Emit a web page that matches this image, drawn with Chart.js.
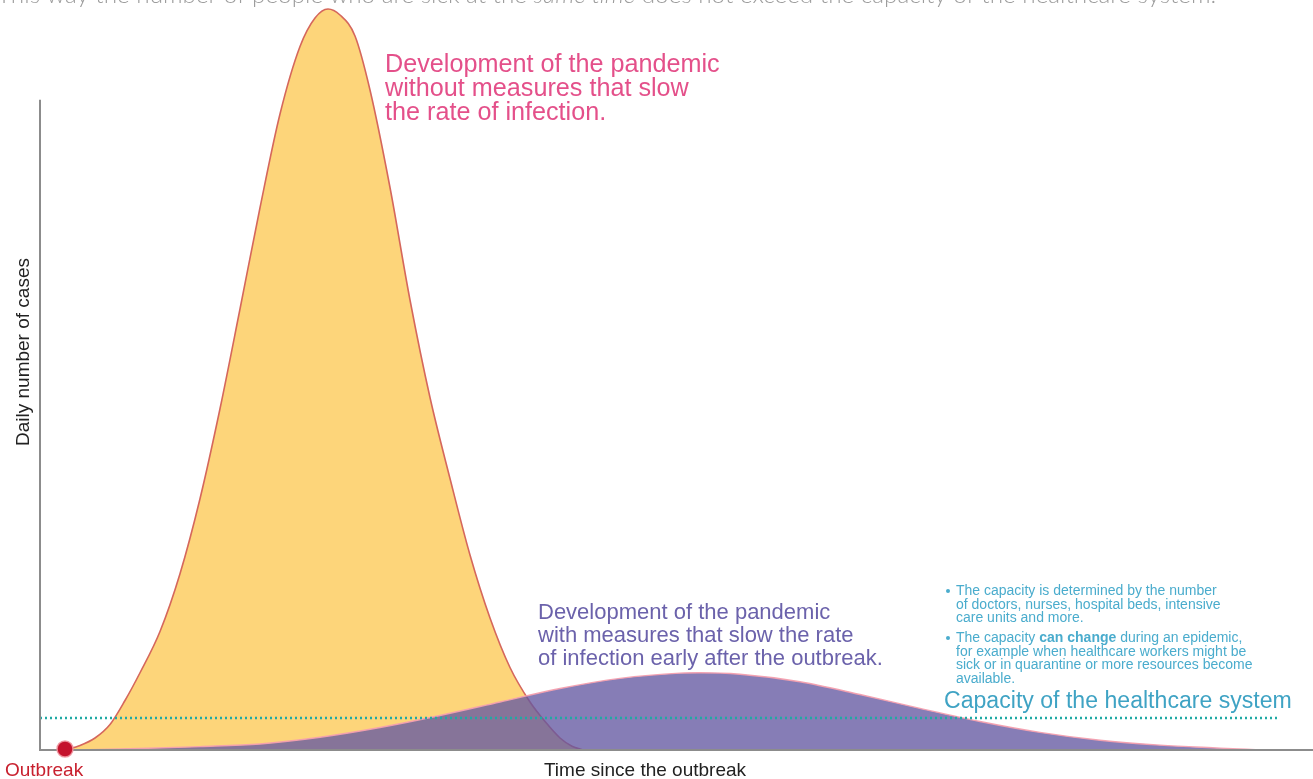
<!DOCTYPE html>
<html>
<head>
<meta charset="utf-8">
<script src="https://cdn.jsdelivr.net/npm/chart.js@4/dist/chart.umd.min.js"></script>
<style>
  body { margin: 0; background: #fff; }
  #wrap { width: 1313px; height: 779px; position: relative; }
</style>
</head>
<body>
<div id="wrap"><canvas id="flatChart" width="1313" height="779"></canvas></div>
<script>
// time since outbreak (arbitrary units) and daily cases (arbitrary units)
var noMeasuresX = [2.5, 4, 5.5, 7, 8.5, 10, 12, 14, 16, 18, 20, 22, 24, 26, 27.5, 28.8,
                   30, 31.5, 33, 35, 37, 39, 41, 43, 45, 47, 49, 50.5, 52, 53.2, 54.3];
var noMeasuresY = [0, 0.6, 1.6, 3.4, 6.6, 10.3, 15.8, 23.5, 33.5, 45.5, 58.8, 72.3, 84.8, 93.8, 97.6, 98.8,
                   98.0, 95.2, 88.0, 75.0, 60.0, 47.0, 36.2, 26.0, 17.6, 11.0, 6.4, 3.8, 1.6, 0.5, 0];

var measuresX = [4, 10, 16, 22, 28, 34, 40, 46, 52, 58, 64, 66, 70, 76, 82, 88, 94, 100, 106, 112, 118, 122];
var measuresY = [0, 0.2, 0.45, 0.8, 1.7, 3.0, 4.6, 6.4, 8.2, 9.55, 10.25, 10.3, 10.1, 9.1, 7.4, 5.55, 3.8, 2.35, 1.3, 0.65, 0.25, 0];

var capacityX = [0, 124];
var capacityLevel = 4.27;
var outbreakX = 2.5;

function pts(xs, ys) {
  return xs.map(function (x, i) { return { x: x, y: ys[i] }; });
}

var FONT = "'Liberation Sans', Arial, Helvetica, sans-serif";

// axes, labels and notes
var notesPlugin = {
  id: "notes",
  afterDraw: function (chart) {
    var ctx = chart.ctx;
    var xs = chart.scales.x, ys = chart.scales.y;
    var x0 = xs.getPixelForValue(0), y0 = ys.getPixelForValue(0);

    ctx.save();
    // axis lines
    ctx.strokeStyle = "#8c8c8c";
    ctx.lineWidth = 2;
    ctx.beginPath();
    ctx.moveTo(x0, ys.getPixelForValue(86.7));
    ctx.lineTo(x0, y0);
    ctx.lineTo(xs.getPixelForValue(xs.max), y0);
    ctx.stroke();

    // outbreak dot over the axis
    ctx.fillStyle = "#c4122c";
    ctx.strokeStyle = "rgba(240,150,160,0.9)";
    ctx.lineWidth = 1.5;
    ctx.beginPath();
    ctx.arc(xs.getPixelForValue(outbreakX), y0 - 1, 8, 0, Math.PI * 2);
    ctx.fill();
    ctx.stroke();

    // top sentence (cut by the page edge)
    ctx.fillStyle = "#9d9d9d";
    ctx.textBaseline = "alphabetic";
    var sz = 24.3;
    var parts = [
      ["This way the number of people who are sick at the ", "300"],
      ["same time", "italic 300"],
      [" does not exceed the capacity of the healthcare system.", "300"]
    ];
    var tx = -3;
    parts.forEach(function (p) {
      ctx.font = p[1] + " " + sz + "px Lato, 'Open Sans', sans-serif";
      ctx.fillText(p[0], tx, 3);
      tx += ctx.measureText(p[0]).width;
    });

    // pink annotation
    ctx.fillStyle = "#e4508a";
    ctx.font = "25.2px " + FONT;
    ["Development of the pandemic", "without measures that slow", "the rate of infection."].forEach(function (t, i) {
      ctx.fillText(t, 385, 72 + i * 24.2);
    });

    // purple annotation
    ctx.fillStyle = "#6b62ab";
    ctx.font = "22px " + FONT;
    ["Development of the pandemic", "with measures that slow the rate", "of infection early after the outbreak."].forEach(function (t, i) {
      ctx.fillText(t, 538, 618.5 + i * 23);
    });

    // blue bullet notes
    ctx.fillStyle = "#4aaccd";
    var bullets = [
      [[["The capacity is determined by the number", false]],
       [["of doctors, nurses, hospital beds, intensive", false]],
       [["care units and more.", false]]],
      [[["The capacity ", false], ["can change", true], [" during an epidemic,", false]],
       [["for example when healthcare workers might be", false]],
       [["sick or in quarantine or more resources become", false]],
       [["available.", false]]]
    ];
    var by = [595, 642];
    bullets.forEach(function (b, bi) {
      ctx.beginPath();
      ctx.arc(948, by[bi] - 4, 2, 0, Math.PI * 2);
      ctx.fill();
      b.forEach(function (line, li) {
        var lx = 956;
        line.forEach(function (seg) {
          ctx.font = (seg[1] ? "bold " : "") + "14px " + FONT;
          ctx.fillText(seg[0], lx, by[bi] + li * 13.7);
          lx += ctx.measureText(seg[0]).width;
        });
      });
    });

    ctx.font = "23.1px " + FONT;
    ctx.fillStyle = "#3fa3c4";
    ctx.fillText("Capacity of the healthcare system", 944, 708);

    // axis titles
    ctx.fillStyle = "#c8202e";
    ctx.font = "19px " + FONT;
    ctx.fillText("Outbreak", 5, 776);

    ctx.fillStyle = "#222";
    ctx.textAlign = "center";
    ctx.fillText("Time since the outbreak", 645, 776);

    ctx.save();
    ctx.translate(29, 352);
    ctx.rotate(-Math.PI / 2);
    ctx.font = "19px " + FONT;
    ctx.fillText("Daily number of cases", 0, 0);
    ctx.restore();

    ctx.restore();
  }
};

var ctx = document.getElementById("flatChart").getContext("2d");
var flatChart = new Chart(ctx, {
  type: "line",
  data: {
    datasets: [
      {
        label: "Capacity",
        data: pts(capacityX, [capacityLevel, capacityLevel]),
        borderColor: "#1fa9a4",
        borderWidth: 2.5,
        borderDash: [2, 3],
        fill: false,
        pointRadius: 0,
        order: 1
      },
      {
        label: "With measures",
        data: pts(measuresX, measuresY),
        borderColor: "rgba(244,160,175,0.95)",
        borderWidth: 1.5,
        backgroundColor: "rgba(100,88,162,0.78)",
        fill: "origin",
        cubicInterpolationMode: "monotone",
        pointRadius: 0,
        order: 2
      },
      {
        label: "Without measures",
        data: pts(noMeasuresX, noMeasuresY),
        borderColor: "#d5675c",
        borderWidth: 1.6,
        backgroundColor: "#fdd57a",
        fill: "origin",
        cubicInterpolationMode: "monotone",
        pointRadius: 0,
        order: 3
      }
    ]
  },
  options: {
    responsive: false,
    animation: false,
    layout: { padding: { left: 40, right: 0, top: 0, bottom: 29 } },
    scales: {
      x: { type: "linear", min: 0, max: 127.3, display: false },
      y: { min: 0, max: 100, display: false }
    },
    plugins: {
      legend: { display: false },
      tooltip: { enabled: false }
    }
  },
  plugins: [notesPlugin]
});
</script>
</body>
</html>
